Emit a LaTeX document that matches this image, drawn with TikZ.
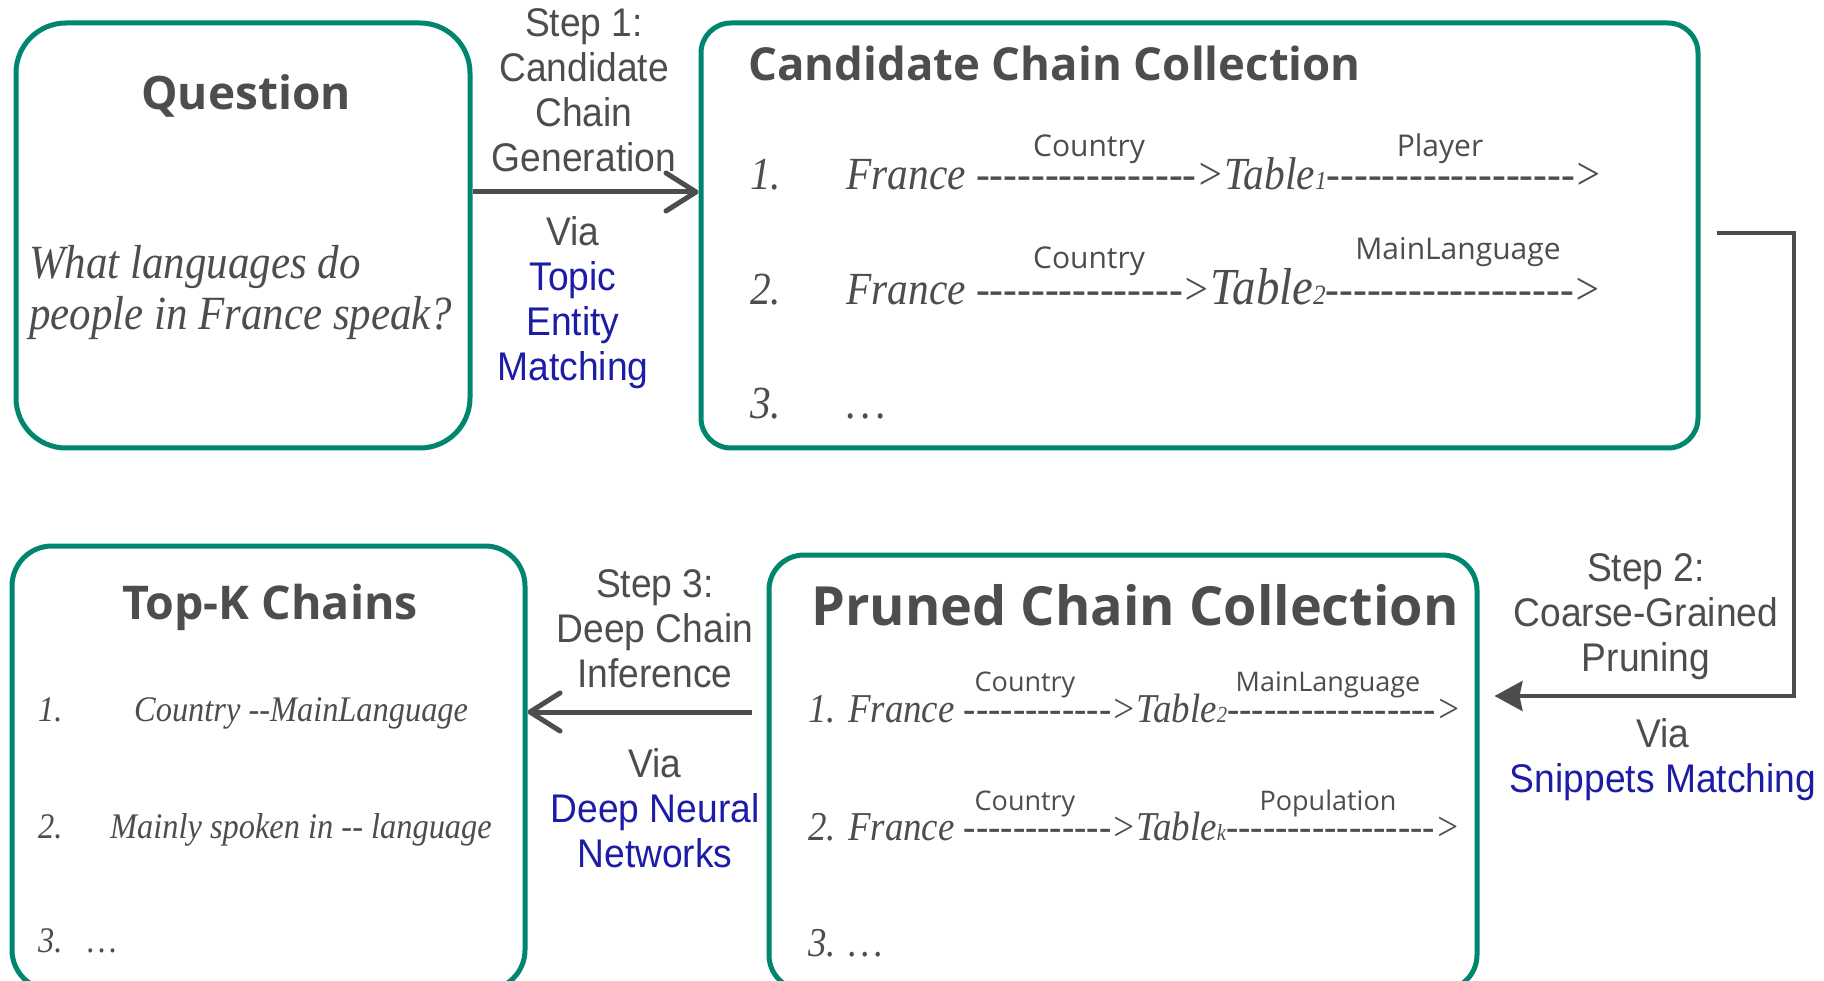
\documentclass[tikz,border=0pt]{standalone}
\usepackage{fontspec}
\setmainfont{Liberation Serif}
\newfontfamily\stepfont[FakeStretch=0.93]{Liberation Sans}
\newfontfamily\ttlfont{Open Sans}
\newfontfamily\labfont{Open Sans}
\newfontfamily\chfont[FakeStretch=0.9]{Liberation Serif}
\usetikzlibrary{arrows.meta}
\definecolor{boxc}{RGB}{0,133,110}
\definecolor{txtc}{RGB}{77,77,77}
\definecolor{viac}{RGB}{28,28,166}
\newcommand\hy[1]{\foreach\k in {1,...,#1}{-}}
\newcommand\sbs[2]{{\fontsize{#1}{#1}\selectfont #2}}
\begin{document}
\begin{tikzpicture}[x=1pt,y=-1pt,
 rbox/.style={draw=boxc, line width=5pt, rounded corners=#1, inner sep=0pt},
 rbox/.default=30pt,
 ttl/.style={font=\ttlfont\bfseries\fontsize{#1}{#1}\selectfont, text=txtc, inner sep=0pt},
 steptxt/.style={font=\stepfont\fontsize{40}{45}\selectfont, text=txtc, align=center, inner sep=0pt},
 chaintxt/.style={font=\chfont\itshape\fontsize{#1}{#1}\selectfont, text=txtc, inner sep=0pt, anchor=base west},
 lab/.style={font=\labfont\fontsize{#1}{#1}\selectfont, text=txtc, inner sep=0pt, anchor=base},
 arr/.style={draw=txtc, line width=5pt, -{Straight Barb[round,length=30pt,width=38pt,line width=5pt]}},
 arrfill/.style={draw=txtc, line width=4pt, -{Stealth[length=28pt,width=30pt,inset=3pt]}}
]
\useasboundingbox (0,0) rectangle (1824,981);
\clip (0,0) rectangle (1824,981);

% boxes
\node[rbox=50pt, minimum width=454pt, minimum height=425pt] (q) at (243,235.5) {};
\node[rbox=30pt, minimum width=997pt, minimum height=425pt] (cand) at (1199.5,235.5) {};
\node[rbox=40pt, minimum width=513pt, minimum height=444pt] (topk) at (268.5,768) {};
\node[rbox=35pt, minimum width=708pt, minimum height=435pt] (pr) at (1123,772.5) {};

% titles
\node[ttl=46, anchor=base] (qt) at (246,110) {Question};
\node[ttl=45.5, anchor=base west] (ct) at (748,81) {Candidate Chain Collection};
\node[ttl=46.5, anchor=base] (tt) at (270,619) {Top-K Chains};
\node[ttl=54, anchor=base] (pt) at (1135,625) {Pruned Chain Collection};

% question text
\node[chaintxt=47.7] (qx1) at (29,279) {What languages do};
\node[chaintxt=47.7] (qx2) at (29,330) {people in France speak?};

% step labels
\node[steptxt] (s1) at (584,90) {Step 1:\\Candidate\\Chain\\Generation};
\node[steptxt] (v1) at (573,303) {Via\\\textcolor{viac}{Topic}\\\textcolor{viac}{Entity}\\\textcolor{viac}{Matching}};
\node[steptxt] (s2) at (1646,617) {Step 2:\\Coarse-Grained\\Pruning};
\node[steptxt] (v2) at (1663,760) {Via\\\textcolor{viac}{Snippets Matching}};
\node[steptxt] (s3) at (655,629) {Step 3:\\Deep Chain\\Inference};
\node[steptxt] (v3) at (655,808) {Via\\\textcolor{viac}{Deep Neural}\\\textcolor{viac}{Networks}};

% arrows
\draw[arr] (q.east |- 0,192) -- (cand.west |- 0,192);
\draw[arr, shorten <=15pt] (pr.west |- 0,712) -- (topk.east |- 0,712);
\coordinate (bend) at (1794,233);
\draw[arrfill, shorten <=16pt, shorten >=15pt] (cand.east |- 0,233) -- (bend) |- (pr.east |- 0,696);

% candidate chains
\node[chaintxt=46] (c1n) at (750,190) {1.};
\node[chaintxt=46] (c1) at (846,190) {France \hy{16}>Table\sbs{26}{1}\hy{18}>};
\node[chaintxt=46] (c2n) at (750,305) {2.};
\node[chaintxt=46] (c2) at (846,305) {France \hy{15}>\sbs{52}{Table}\sbs{28}{2}\hy{18}>};
\node[chaintxt=46] (c3n) at (750,419) {3.};
\node[chaintxt=46] (c3) at (846,419) {.\kern5pt.\kern5pt.};
\node[lab=30] (c1a) at (1089,157) {Country};
\node[lab=30] (c1b) at (1440,157) {Player};
\node[lab=30] (c2a) at (1089,269) {Country};
\node[lab=30] (c2b) at (1458,260) {MainLanguage};

% pruned chains
\node[chaintxt=41] (p1) at (808,722) {1. France \hy{12}>Table\sbs{23}{2}\hy{17}>};
\node[chaintxt=41] (p2) at (808,840) {2. France \hy{12}>Table\sbs{23}{k}\hy{17}>};
\node[chaintxt=41] (p3) at (808,956) {3. .\kern4pt.\kern4pt.};
\node[lab=27] (p1a) at (1025,691) {Country};
\node[lab=27] (p1b) at (1328,691) {MainLanguage};
\node[lab=27] (p2a) at (1025,810) {Country};
\node[lab=27] (p2b) at (1328,810) {Population};

% top-k chains
\node[chaintxt=36] (t1n) at (38,721) {1.};
\node[chaintxt=36] (t1) at (134,721) {Country {-}{-}MainLanguage};
\node[chaintxt=36] (t2n) at (38,838) {2.};
\node[chaintxt=36] (t2) at (110,838) {Mainly spoken in {-}{-} language};
\node[chaintxt=36] (t3n) at (38,952) {3.};
\node[chaintxt=36] (t3) at (87,952) {.\kern3pt.\kern3pt.};
\end{tikzpicture}
\end{document}
